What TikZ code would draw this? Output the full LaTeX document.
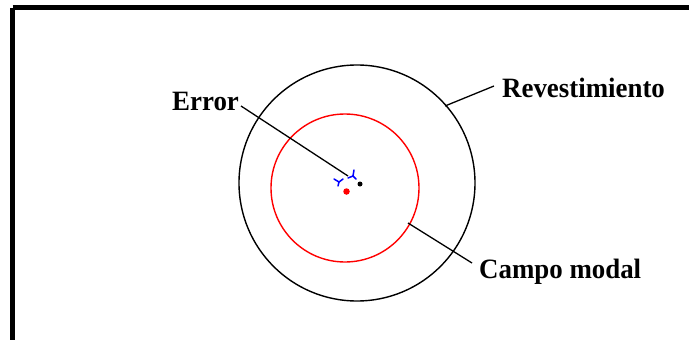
\documentclass[tikz,border=0pt]{standalone}
\usepackage{fontspec}
\setmainfont{Liberation Serif}[FakeStretch=0.96]
\usetikzlibrary{calc}
\begin{document}
\begin{tikzpicture}[x=1pt,y=-1pt,
  lbl/.style={font=\fontsize{28}{30}\selectfont\bfseries, inner sep=0pt, anchor=base west},
  leader/.style={draw=black, line width=1.3pt},
  ring/.style={draw, line width=1.4pt, circle, inner sep=0pt}]
\useasboundingbox (0,0) rectangle (689,340);
\fill[white] (0,0) rectangle (689,340);
\draw[line width=4.5pt] (12.5,7.5) -- (720,7.5);
\draw[line width=4.5pt] (12.5,7.5) -- (12.5,360);
% circles
\node[ring, draw=black, minimum size=236pt] (outer) at (357,183) {};
\node[ring, draw=red, minimum size=148pt] (inner) at (345,188) {};
\node[circle, fill=red, inner sep=0pt, minimum size=6.5pt] (rdot) at (346.5,191.5) {};
\node[circle, fill=black, inner sep=0pt, minimum size=5pt] (bdot) at (360,184) {};
% labels
\node[lbl] (err) at (172,110) {Error};
\node[lbl] (rev) at (502,97) {Revestimiento};
\node[lbl] (cam) at (479,278) {Campo modal};
% leaders
\coordinate (errstart) at (241,106);
\coordinate (errend) at (348,176);
\coordinate (revpt) at (445,106);
\coordinate (revend) at (494,86);
\coordinate (campt) at (408,223);
\coordinate (camend) at (472,263);
\draw[leader] (errstart) -- (errend);
\draw[leader] (revpt) -- (revend);
\draw[leader] (campt) -- (camend);
% blue error marks
\draw[blue, line width=1.5pt, line cap=round] (334,179) -- (339,182) -- (338,186);
\draw[blue, line width=1.5pt, line cap=round] (339,182) -- (343,179);
\draw[blue, line width=1.5pt, line cap=round] (348,178) -- (353,176) -- (354,170);
\draw[blue, line width=1.5pt, line cap=round] (353,176) -- (356,179);
\end{tikzpicture}
\end{document}
